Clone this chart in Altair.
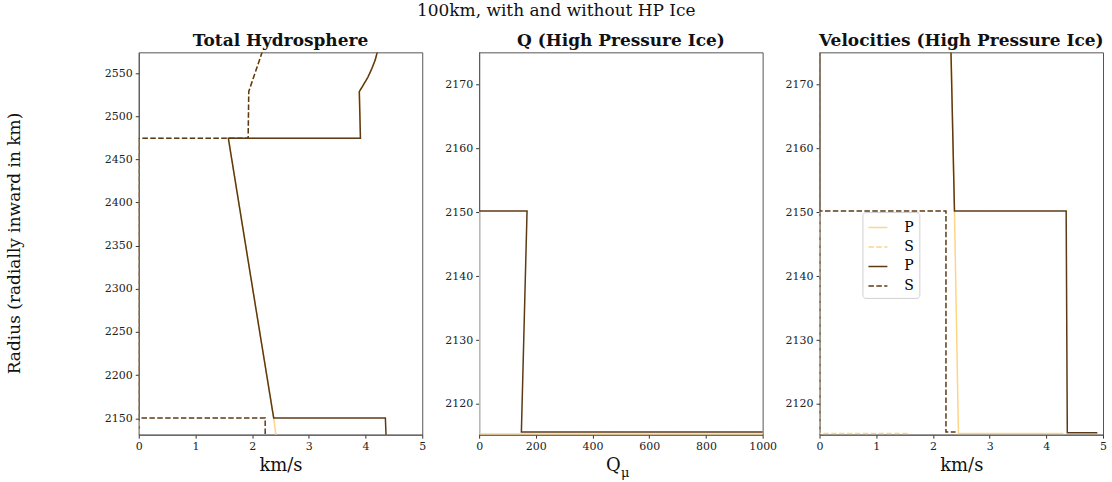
import altair as alt
import pandas as pd

FONT = "DejaVu Serif"
LIGHT = "#ffd485"
DARK = "#5c3a14"

# ---- data ----
dark_P_x = [4.21, 4.17, 4.11, 4.04, 3.95, 3.89, 3.91, 1.58, 1.98, 2.38, 4.35, 4.37, 4.90]
dark_P_r = [2575, 2565, 2555, 2545, 2535, 2528.5, 2474.5, 2474.5, 2312, 2150.2, 2150.2, 2115.5, 2115.5]
dark_S_x = [2.18, 1.94, 1.93, 0.0, 0.0, 2.23, 2.23, 2.40]
dark_S_r = [2575, 2528.5, 2474.5, 2474.5, 2150.2, 2150.2, 2115.6, 2115.6]
light_P_x = [4.21, 4.17, 4.11, 4.04, 3.95, 3.89, 3.91, 1.58, 1.98, 2.38, 2.45, 4.30]
light_P_r = [2575, 2565, 2555, 2545, 2535, 2528.5, 2474.5, 2474.5, 2312, 2150.2, 2115.4, 2115.4]
light_S_x = [2.18, 1.94, 1.93, 0.0, 0.0, 1.60]
light_S_r = [2575, 2528.5, 2474.5, 2474.5, 2115.4, 2115.4]
dark_Q_x = [0, 0, 169, 149, 1200]
dark_Q_r = [2575, 2150.2, 2150.2, 2115.6, 2115.6]
light_Q_x = [0, 0, 1200]
light_Q_r = [2575, 2115.3, 2115.3]

series_keys = ["aP", "bS", "cP", "dS"]
series_colors = [LIGHT, LIGHT, DARK, DARK]
series_dash = [[1, 0], [5.5, 2.4], [1, 0], [5.5, 2.4]]

rows = []
def add(kind, series, xs, rs):
    for i, (x, r) in enumerate(zip(xs, rs)):
        rows.append(dict(kind=kind, series=series, x=x, r=r, idx=i,
                         model="light" if series in ("aP", "bS") else "dark"))

add("vel", "aP", light_P_x, light_P_r)
add("vel", "bS", light_S_x, light_S_r)
add("vel", "cP", dark_P_x, dark_P_r)
add("vel", "dS", dark_S_x, dark_S_r)
add("q", "aP", light_Q_x, light_Q_r)
add("q", "cP", dark_Q_x, dark_Q_r)
df = pd.DataFrame(rows)

def panel(kind, xdom, xticks, ydom, yticks, title, xtitle, ytitle=None, legend=False,
          subscript=None):
    base = alt.Chart(df).transform_filter(alt.datum.kind == kind)
    yax = dict(values=yticks, grid=False, labelFontSize=11, tickSize=3.5, format="d",
               labelPadding=3, domainColor="#555", tickColor="#333")
    if ytitle:
        yax.update(title=ytitle, titleFontSize=17, titleFontWeight="normal",
                   titleX=-124, titleY=191, titleAngle=270, titleBaseline="middle",
                   titleAlign="center")
    else:
        yax.update(title=None)
    xax = dict(values=xticks, grid=False, title=xtitle, format="d",
               titleFontSize=18, titleFontWeight="normal",
               labelFontSize=11, tickSize=3.5, titlePadding=5,
               domainColor="#555", tickColor="#333", labelFlush=False)
    if subscript:
        xax.update(titleX=134, titleAlign="center")
    leg = None
    if legend:
        leg = alt.Legend(title=None, orient="none", legendX=43, legendY=160,
                         labelExpr="substring(datum.label, 1)", labelFontSize=14,
                         labelFont=FONT, symbolType="stroke", symbolSize=361,
                         symbolStrokeWidth=1.5, fillColor="white",
                         strokeColor="#d0d0d0", cornerRadius=3, padding=5,
                         rowPadding=1.5, labelOffset=16)
    layers = []
    for model in ["light", "dark"]:
        layers.append(
            base.transform_filter(alt.datum.model == model)
            .mark_line(clip=True, strokeWidth=1.5, strokeCap="butt")
            .encode(
                x=alt.X("x:Q", scale=alt.Scale(domain=xdom, nice=False, zero=False),
                        axis=alt.Axis(**xax)),
                y=alt.Y("r:Q", scale=alt.Scale(domain=ydom, nice=False, zero=False),
                        axis=alt.Axis(**yax)),
                color=alt.Color("series:N", scale=alt.Scale(domain=series_keys, range=series_colors),
                                legend=leg),
                strokeDash=alt.StrokeDash("series:N", scale=alt.Scale(domain=series_keys, range=series_dash),
                                          legend=leg),
                order="idx:Q",
                detail="series:N",
            )
        )
    if subscript:
        layers.append(
            alt.Chart(pd.DataFrame({"t": [subscript]}))
            .mark_text(font=FONT, fontSize=13, align="left", baseline="alphabetic",
                       color="#111", clip=False)
            .encode(text="t:N", x=alt.value(142), y=alt.value(425))
        )
    return alt.layer(*layers).properties(
        width=284, height=383,
        title=alt.TitleParams(title, fontSize=17, fontWeight="bold", font=FONT, offset=2),
    )

p1 = panel("vel", [0, 5], [0, 1, 2, 3, 4, 5], [2131, 2574],
           [2150, 2200, 2250, 2300, 2350, 2400, 2450, 2500, 2550],
           "Total Hydrosphere", "km/s", ytitle="Radius (radially inward in km)")
p2 = panel("q", [0, 1000], [0, 200, 400, 600, 800, 1000], [2115.2, 2175],
           [2120, 2130, 2140, 2150, 2160, 2170], "Q (High Pressure Ice)", "Q",
           subscript="μ")
p3 = panel("vel", [0, 5], [0, 1, 2, 3, 4, 5], [2115.2, 2175],
           [2120, 2130, 2140, 2150, 2160, 2170], "Velocities (High Pressure Ice)", "km/s",
           legend=True)

chart = (
    alt.hconcat(p1, p2, p3, spacing=57, bounds="flush")
    .resolve_legend(color="independent", strokeDash="independent")
    .properties(
        title=alt.TitleParams("100km, with and without HP Ice", fontSize=17,
                              fontWeight="normal", font=FONT, anchor="middle", offset=12),
        padding={"left": 5, "top": 1, "right": 5, "bottom": 5},
    )
    .configure_view(stroke="#555", strokeWidth=1)
    .configure_axis(labelFont=FONT, titleFont=FONT, labelColor="#222", titleColor="#111")
    .configure_title(font=FONT, color="#111")
    .configure_legend(labelFont=FONT)
)

chart.save("out.html", embed_options={"renderer": "svg", "actions": False})
